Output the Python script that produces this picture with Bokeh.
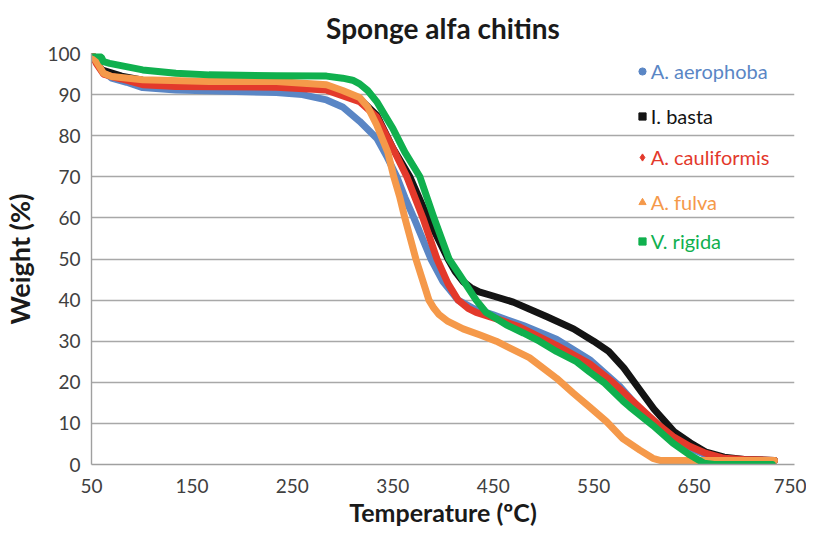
from bokeh.plotting import figure
from bokeh.models import (Range1d, FixedTicker, Legend, LegendItem, ColumnDataSource)
from bokeh.embed import file_html
from bokeh.resources import INLINE

# ---- data ----
series_names = ["A. aerophoba", "I. basta", "A. cauliformis", "A. fulva", "V. rigida"]

t_aerophoba = [50, 55, 60, 70, 85, 101, 134, 234, 260, 284, 300, 317, 334, 344, 354, 362, 371, 388, 400, 415, 430, 450, 480, 513, 546, 576, 596, 613, 629, 646, 662, 680, 700, 730]
w_aerophoba = [100, 98, 96, 94, 93, 91.7, 91.1, 90.5, 90, 88.7, 87, 83.5, 79.4, 75, 70, 65, 60, 50, 44.5, 40, 38, 36.4, 33.8, 30.5, 25.5, 19, 13.5, 9.7, 6.5, 4, 2.3, 1.3, 1, 1]

t_basta = [50, 60, 80, 101, 150, 234, 284, 317, 334, 350, 367, 385, 405, 412, 420, 428, 436, 450, 470, 503, 530, 550, 565, 580, 595, 610, 630, 646, 662, 680, 700, 730]
w_basta = [100, 96, 94.5, 93.5, 93, 92.7, 91.8, 89, 85, 77, 70, 60, 50, 47, 44.5, 43, 42, 41, 39.5, 36, 33, 30, 27.5, 23.5, 18.5, 13.5, 8, 5.3, 3, 1.8, 1.2, 1]

t_cauliformis = [50, 55, 62, 70, 80, 101, 134, 234, 284, 317, 334, 350, 364, 380, 394, 405, 415, 425, 433, 455, 476, 513, 546, 569, 593, 613, 629, 646, 662, 680, 700, 730]
w_cauliformis = [100, 97.5, 95, 94.4, 93.8, 92.4, 92, 91.8, 91.1, 88.3, 84.6, 77, 70, 60, 50, 44, 40, 38, 37, 35.3, 33.5, 29, 24.5, 20, 14.5, 10, 6.8, 4.4, 2.7, 1.5, 1.2, 1]

t_fulva = [50, 55, 62, 70, 101, 167, 234, 284, 300, 317, 325, 334, 340, 345, 351, 357, 362, 373, 386, 391, 396, 405, 420, 437, 453, 486, 513, 530, 546, 563, 579, 596, 609, 616, 730]
w_fulva = [100, 98, 95.2, 94.4, 93.6, 93.2, 93.2, 92.4, 91, 89.3, 87, 82.6, 79, 76, 70, 65, 60, 50, 40, 38, 36.5, 34.8, 33, 31.5, 30, 26, 21, 17.3, 14, 10.4, 6.3, 3.5, 1.5, 1, 1]

t_rigida = [50, 55, 60, 62, 68, 101, 134, 167, 234, 284, 300, 310, 317, 325, 334, 342, 350, 362, 377, 391, 406, 417, 425, 433, 443, 453, 463, 480, 496, 513, 533, 546, 560, 579, 586, 609, 629, 646, 660, 670, 728]
w_rigida = [100.5, 100, 99, 98, 97.6, 96, 95.2, 94.8, 94.6, 94.5, 94, 93.5, 92.6, 91, 88.3, 85, 81.8, 76, 70, 60, 50, 46, 43, 40, 37, 35.5, 34, 32, 30, 27.5, 25, 22.5, 20, 15.5, 14, 9.5, 5.2, 2.3, 0.3, 0, 0]

x_ticks = [50, 150, 250, 350, 450, 550, 650, 750]
y_ticks = [0, 10, 20, 30, 40, 50, 60, 70, 80, 90, 100]

colors = {"A. aerophoba": "#5a86c5", "I. basta": "#141414", "A. cauliformis": "#e3392b",
          "A. fulva": "#f5994a", "V. rigida": "#10b04e"}
markers = {"A. aerophoba": "circle", "I. basta": "square", "A. cauliformis": "diamond",
           "A. fulva": "triangle", "V. rigida": "square"}

data = {"A. aerophoba": (t_aerophoba, w_aerophoba), "I. basta": (t_basta, w_basta),
        "A. cauliformis": (t_cauliformis, w_cauliformis), "A. fulva": (t_fulva, w_fulva),
        "V. rigida": (t_rigida, w_rigida)}

FONT = "Lato"

p = figure(frame_width=703, frame_height=411, output_backend="svg", toolbar_location=None,
           x_range=Range1d(50, 750), y_range=Range1d(0, 100),
           min_border_left=87, min_border_right=12, min_border_top=45, min_border_bottom=63)

p.title.text = "Sponge alfa chitins"
p.title.align = "center"
p.title.text_font = FONT
p.title.text_font_size = "28px"
p.title.text_font_style = "bold"
p.title.text_color = "#1a1a1a"
p.title.standoff = 17

p.outline_line_color = None
p.background_fill_color = "white"
p.border_fill_color = "white"

p.xgrid.grid_line_color = None
p.ygrid.ticker = FixedTicker(ticks=y_ticks)
p.ygrid.grid_line_color = "#a8a8a8"
p.ygrid.grid_line_width = 1.4

for ax in (p.xaxis[0], p.yaxis[0]):
    ax.axis_line_color = "#a0a0a0"
    ax.axis_line_width = 1.4
    ax.major_tick_line_color = None
    ax.minor_tick_line_color = None
    ax.major_label_text_font = FONT
    ax.major_label_text_font_size = "19px"
    ax.major_label_text_color = "#404040"
    ax.axis_label_text_font = FONT
    ax.axis_label_text_font_size = "25px"
    ax.axis_label_text_font_style = "bold"
    ax.axis_label_text_color = "#1a1a1a"

p.xaxis[0].ticker = FixedTicker(ticks=x_ticks)
p.yaxis[0].ticker = FixedTicker(ticks=y_ticks)
p.yaxis[0].axis_label = "Weight (%)"
p.yaxis[0].axis_label_text_font_size = "27px"
p.xaxis[0].axis_label = "Temperature (ºC)"
p.xaxis[0].major_label_standoff = 8
p.xaxis[0].axis_label_standoff = 1
p.yaxis[0].major_label_standoff = 5
p.yaxis[0].axis_label_standoff = 8

draw_order = ["A. aerophoba", "I. basta", "A. cauliformis", "A. fulva", "V. rigida"]
for name in draw_order:
    t, w = data[name]
    p.line(t, w, line_color=colors[name], line_width=7, line_join="round", line_cap="round")

# legend: one Legend per entry so that each label can carry its series colour;
# the marker renderers are hidden, only their legend glyph is shown
legend_y = [380.7, 335.7, 295, 250, 210.7]
for i, name in enumerate(series_names):
    t, w = data[name]
    src = ColumnDataSource(dict(x=t[:1], y=w[:1]))
    r = p.scatter("x", "y", source=src, marker=markers[name], size=8,
                  fill_color=colors[name], line_color=colors[name], visible=False)
    lg = Legend(items=[LegendItem(label=name, renderers=[r])], location=(541.7, legend_y[i]),
                margin=0, padding=0, glyph_width=18, glyph_height=22, label_height=22,
                label_standoff=0, border_line_color=None, background_fill_alpha=0,
                inactive_fill_alpha=0,
                label_text_font=FONT, label_text_font_size="20px", label_text_color=colors[name])
    p.add_layout(lg, "center")

open("out.html", "w").write(file_html(p, INLINE))
